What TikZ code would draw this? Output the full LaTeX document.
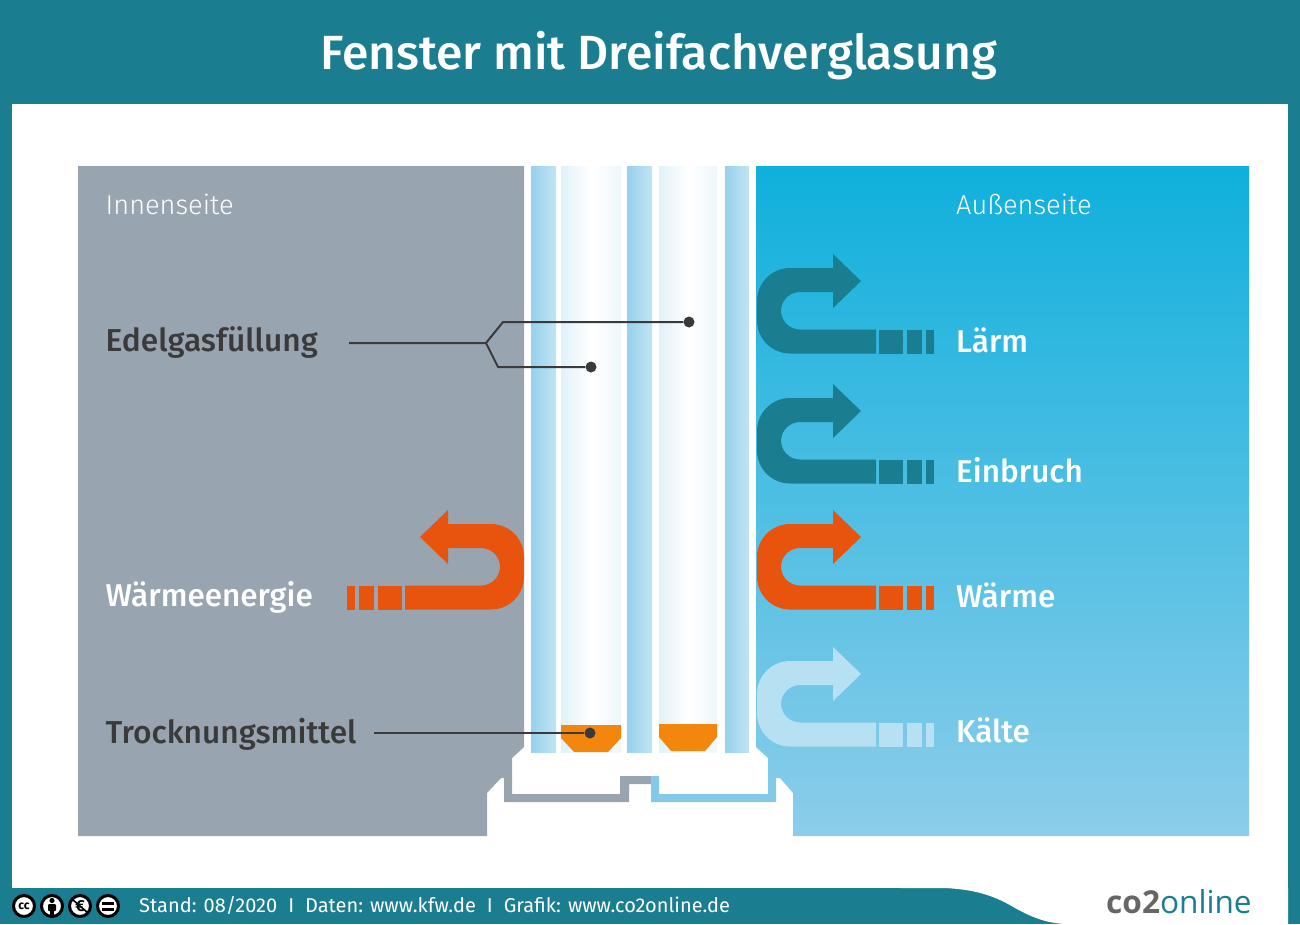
\documentclass[tikz,border=0pt]{standalone}
\usepackage{fontspec}
\setmainfont{Fira Sans}
\newfontfamily\lightfont{Fira Sans Light}
\newfontfamily\mediumfont{Fira Sans Medium}
\newfontfamily\logofont{Open Sans}
\definecolor{teal1}{HTML}{1A7D90}
\definecolor{greypanel}{HTML}{98A4B0}
\definecolor{bluetop}{HTML}{0FB0DC}
\definecolor{bluebottom}{HTML}{8CCDEA}
\definecolor{frameblue}{HTML}{84C9E8}
\definecolor{orange1}{HTML}{E8540E}
\definecolor{orange2}{HTML}{F3870D}
\definecolor{coldarrow}{HTML}{B7E0F3}
\definecolor{darktext}{HTML}{3A3A3A}
\tikzset{
  sidelabel/.style={anchor=base west, inner sep=0pt, text=white, font=\lightfont\fontsize{27.2}{27}\selectfont},
  whitelabel/.style={anchor=base west, inner sep=0pt, text=white, font=\mediumfont\fontsize{31.5}{32}\selectfont},
  darklabel/.style={anchor=base west, inner sep=0pt, text=darktext, font=\mediumfont\fontsize{31.7}{32}\selectfont},
  footlabel/.style={anchor=base west, inner sep=0pt, text=white, font=\fontsize{20}{20}\selectfont},
  panebar/.style={left color=frameblue!85, right color=frameblue!50},
  gaspane/.style={left color=frameblue!25, right color=frameblue!15, middle color=white},
  leaderline/.style={draw=darktext, line width=2pt, line join=round},
  leaderdot/.style={circle, fill=darktext, inner sep=0pt, minimum size=11pt},
  ccbadge/.style={circle, draw=black, fill=white, line width=3pt, inner sep=0pt, minimum size=21pt},
  uturn/.pic={
    \fill[pic actions] (76,-13) [rounded corners=33pt] -- (0,-13) -- (0,72.5) [sharp corners] -- (119,72.5) -- (119,48.5)
      [rounded corners=19pt] -- (24,48.5) -- (24,11) [sharp corners] -- (76,11) -- (76,27) -- (104,0) -- (76,-27) -- cycle;
    \fill[pic actions] (122,48.5) rectangle (146,72.5);
    \fill[pic actions] (150,48.5) rectangle (165,72.5);
    \fill[pic actions] (169,48.5) rectangle (177,72.5);
  },
}
\begin{document}
\begin{tikzpicture}[x=1pt, y=-1pt]
  \useasboundingbox (0,0) rectangle (1300,924);
  % Frame
  \fill[teal1] (0,0) rectangle (1300,924);
  \fill[white] (12,104) rectangle (1288,888);
  \fill[white] (900,888) .. controls (960,886) and (985,890) .. (1015,908) .. controls (1035,919) and (1048,923) .. (1065,924) -- (1288,924) -- (1288,888) -- cycle;
  \node[anchor=base, inner sep=0pt, text=white, font=\mediumfont\fontsize{48}{48}\selectfont] (title) at (658.5,69) {Fenster mit Dreifachverglasung};

  % Inside and outside
  \fill[greypanel] (78,166) -- (524,166) -- (524,747) -- (512,758) -- (512,778) -- (501,778) -- (487,793) -- (487,836) -- (78,836) -- cycle;
  \shade[top color=bluetop, bottom color=bluebottom] (756,166) -- (1249,166) -- (1249,836) -- (793,836) -- (793,793) -- (780,778) -- (768,778) -- (768,758) -- (756,747) -- cycle;

  % Window frame seal
  \fill[greypanel] (504,778) -- (512,778) -- (512,794) -- (620,794) -- (620,776) -- (651,776) -- (651,784) -- (629,784) -- (629,802) -- (504,802) -- cycle;
  \fill[frameblue] (651,776) -- (659,776) -- (659,794) -- (768,794) -- (768,778) -- (776,778) -- (776,802) -- (651,802) -- cycle;

  % Glass panes
  \shade[panebar] (531,166) rectangle (556,752);
  \shade[panebar] (627,166) rectangle (652,752);
  \shade[panebar] (725,166) rectangle (749,752);
  \shade[gaspane] (561,166) rectangle (621,752);
  \shade[gaspane] (659,166) rectangle (717,752);

  % Drying agent
  \fill[orange2] (561,725) -- (621,725) -- (621,738) -- (608,752) -- (574,752) -- (561,738) -- cycle;
  \fill[orange2] (659,724) -- (717,724) -- (717,737) -- (705,751) -- (671,751) -- (659,737) -- cycle;

  % Arrows
  \pic[fill=teal1] at (757,281) {uturn};
  \pic[fill=teal1] at (757,411) {uturn};
  \pic[fill=orange1] at (757,537) {uturn};
  \pic[fill=coldarrow] at (757,674) {uturn};
  \pic[fill=orange1, xscale=-1] at (524,537) {uturn};

  % Labels
  \node[sidelabel] (inside) at (105.5,214) {Innenseite};
  \node[sidelabel] (outside) at (956,214) {Außenseite};
  \node[darklabel] (gas) at (105.5,351) {Edelgasfüllung};
  \node[whitelabel] (heatenergy) at (105.5,606) {Wärmeenergie};
  \node[darklabel] (dryer) at (105.5,743) {Trocknungsmittel};
  \node[whitelabel] (noise) at (956,352) {Lärm};
  \node[whitelabel] (burglary) at (956,482) {Einbruch};
  \node[whitelabel] (heat) at (956,607) {Wärme};
  \node[whitelabel] (cold) at (956,742) {Kälte};

  % Leader lines
  \coordinate (gasstart) at (349,343);
  \coordinate (gasfork) at (486,343);
  \coordinate (gasupper) at (503,322);
  \coordinate (gaslower) at (498,367);
  \coordinate (dryerstart) at (374,733);
  \node[leaderdot] (gasdotb) at (689,322) {};
  \node[leaderdot] (gasdota) at (591,367) {};
  \node[leaderdot] (dryerdot) at (590,733) {};
  \draw[leaderline] (gasstart) -- (gasfork) -- (gasupper) -- (gasdotb);
  \draw[leaderline] (gasfork) -- (gaslower) -- (gasdota);
  \draw[leaderline] (dryerstart) -- (dryerdot);

  % Footer
  \node[ccbadge, font=\bfseries\fontsize{12}{12}\selectfont] (ccby) at (24,906) {cc};
  \node[ccbadge] (ccperson) at (52,906) {};
  \fill[black] (52,900.5) circle (2.6pt);
  \fill[black, rounded corners=1pt] (48,904) rectangle (56,911);
  \fill[black] (50,908) rectangle (54,915);
  \node[ccbadge, font=\bfseries\fontsize{16}{16}\selectfont] (cceuro) at (80,906) {€};
  \draw[black, line width=1.6pt] (72,899) -- (88,913);
  \node[ccbadge] (ccequal) at (108,906) {};
  \fill[black] (102,901.5) rectangle (114,904.5);
  \fill[black] (102,907.5) rectangle (114,910.5);
  \node[footlabel] (credits) at (139,912) {Stand: 08/2020\hspace{0.55em}I\hspace{0.55em}Daten: www.kfw.de\hspace{0.55em}I\hspace{0.55em}Grafik: www.co2online.de};
  \node[anchor=base west, inner sep=0pt, font=\logofont\fontsize{31.6}{32}\selectfont] (logo) at (1106,913) {\textcolor{black!60}{\textbf{co2}}\textcolor{teal1}{online}};
\end{tikzpicture}
\end{document}
